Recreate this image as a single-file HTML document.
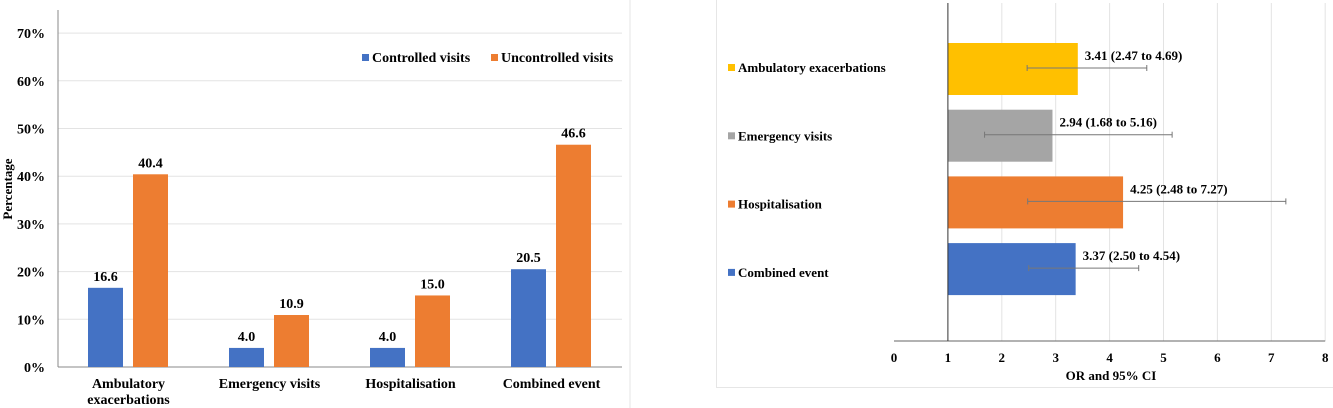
<!DOCTYPE html>
<html><head><meta charset="utf-8"><style>
html,body{margin:0;padding:0;background:#fff;}
svg{display:block;font-family:"Liberation Serif",serif;font-weight:bold;}
</style></head><body>
<svg id="s" width="1333" height="408" viewBox="0 0 1333 408" xmlns="http://www.w3.org/2000/svg">
<g id="left"></g>
<g id="right"></g>
</svg>
<script>
const categories = ["Ambulatory exacerbations","Emergency visits","Hospitalisation","Combined event"];
const controlled = [16.6, 4.0, 4.0, 20.5];
const uncontrolled = [40.4, 10.9, 15.0, 46.6];
const yTicks = [0,10,20,30,40,50,60,70];
const orCats = ["Ambulatory exacerbations","Emergency visits","Hospitalisation","Combined event"];
const orVals = [3.41, 2.94, 4.25, 3.37];
const orLow = [2.47, 1.68, 2.48, 2.50];
const orHigh = [4.69, 5.16, 7.27, 4.54];
const xTicks = [0,1,2,3,4,5,6,7,8];

const NS="http://www.w3.org/2000/svg";
function mk(tag, attrs, parent, text){
  const e=document.createElementNS(NS,tag);
  for(const k in attrs) e.setAttribute(k,attrs[k]);
  if(text!==undefined) e.textContent=text;
  parent.appendChild(e); return e;
}
const L=document.getElementById('left'), R=document.getElementById('right');

// Left chart
const y0=367, yPer10=47.7;
const yS=v=>y0 - v/10*yPer10;
const x0=58, x1=622, groupW=(x1-x0)/categories.length;
const cx=i=>x0+groupW*(i+0.5);
mk('line',{x1:630,y1:0,x2:630,y2:408,stroke:'#e6e6e6','stroke-width':1},L);
yTicks.forEach(t=>{
  const y=yS(t);
  if(t>0){const g=mk('line',{x1:x0,y1:y,x2:x1,y2:y,stroke:'#e3e3e3','stroke-width':1},L);
  }
  const tl=mk('text',{x:45,y:y+5,'text-anchor':'end','font-size':14},L,t+'%');
  
  
});
mk('line',{x1:x0,y1:10,x2:x0,y2:y0,stroke:'#888','stroke-width':1},L);
mk('line',{x1:x0,y1:y0,x2:x1,y2:y0,stroke:'#888','stroke-width':1},L);
const yt=mk('text',{x:0,y:0,transform:'translate(12,189) rotate(-90)','text-anchor':'middle','font-size':13},L,'Percentage');

const bw=35;
categories.forEach((c,i)=>{
  const c0=cx(i);
  const bx=c0-40.5, ox=c0+4.5;
  const b=mk('rect',{x:bx,y:yS(controlled[i]),width:bw,height:y0-yS(controlled[i]),fill:'#4472c4'},L);
  
  const o=mk('rect',{x:ox,y:yS(uncontrolled[i]),width:bw,height:y0-yS(uncontrolled[i]),fill:'#ed7d31'},L);
  
  const l1=mk('text',{x:bx+bw/2,y:yS(controlled[i])-7,'text-anchor':'middle','font-size':14},L,controlled[i].toFixed(1));
  
  const l2=mk('text',{x:ox+bw/2,y:yS(uncontrolled[i])-7,'text-anchor':'middle','font-size':14},L,uncontrolled[i].toFixed(1));
  
  const words = c==="Ambulatory exacerbations" ? ["Ambulatory","exacerbations"] : [c];
  words.forEach((w,k)=>{
    const t=mk('text',{x:c0,y:388+k*16,'text-anchor':'middle','font-size':14},L,w);
    
  });
});
// legend
const lg=mk('g',{},L);
mk('rect',{x:362,y:54,width:7,height:7,fill:'#4472c4'},lg);
mk('text',{x:372,y:62,'font-size':14},lg,'Controlled visits');
mk('rect',{x:491,y:54,width:7,height:7,fill:'#ed7d31'},lg);
mk('text',{x:501,y:62,'font-size':14},lg,'Uncontrolled visits');

// Right chart
mk('rect',{x:716.5,y:-2,width:620,height:389.5,fill:'none',stroke:'#e6e6e6','stroke-width':1},R);
const xa=894, unit=53.9, yAx=341;
const xS=v=>xa+v*unit;
xTicks.forEach(t=>{
  if(t>1){mk('line',{x1:xS(t),y1:3,x2:xS(t),y2:yAx,stroke:'#e3e3e3','stroke-width':1},R);}
  const tl=mk('text',{x:xS(t),y:362,'text-anchor':'middle','font-size':13},R,String(t));
  
});
mk('line',{x1:xa,y1:yAx,x2:xS(8),y2:yAx,stroke:'#666','stroke-width':1},R);
const xt=mk('text',{x:1111,y:380,'text-anchor':'middle','font-size':13},R,'OR and 95% CI');

const colors=['#ffc000','#a5a5a5','#ed7d31','#4472c4'];
orCats.forEach((c,i)=>{
  const top=43+i*66.7, h=52, mid=top+h/2;
  const b=mk('rect',{x:xS(1),y:top,width:xS(orVals[i])-xS(1),height:h,fill:colors[i]},R);
  
  const e=mk('line',{x1:xS(orLow[i]),y1:mid-1,x2:xS(orHigh[i]),y2:mid-1,stroke:'#777','stroke-width':1},R);
  
  mk('line',{x1:xS(orLow[i]),y1:mid-4,x2:xS(orLow[i]),y2:mid+2,stroke:'#777','stroke-width':1},R);
  mk('line',{x1:xS(orHigh[i]),y1:mid-4,x2:xS(orHigh[i]),y2:mid+2,stroke:'#777','stroke-width':1},R);
  const lab=mk('text',{x:xS(orVals[i])+7,y:top+17,'font-size':13},R,orVals[i].toFixed(2)+' ('+orLow[i].toFixed(2)+' to '+orHigh[i].toFixed(2)+')');
  
  const ly=72+i*68.3;
  const sq=mk('rect',{x:728,y:ly-8,width:7,height:7,fill:colors[i]},R);
  
  const lt=mk('text',{x:738,y:ly,'font-size':13},R,c);
  
});
mk('line',{x1:xS(1),y1:3,x2:xS(1),y2:yAx,stroke:'#333','stroke-width':1},R);
</script>
</body></html>
